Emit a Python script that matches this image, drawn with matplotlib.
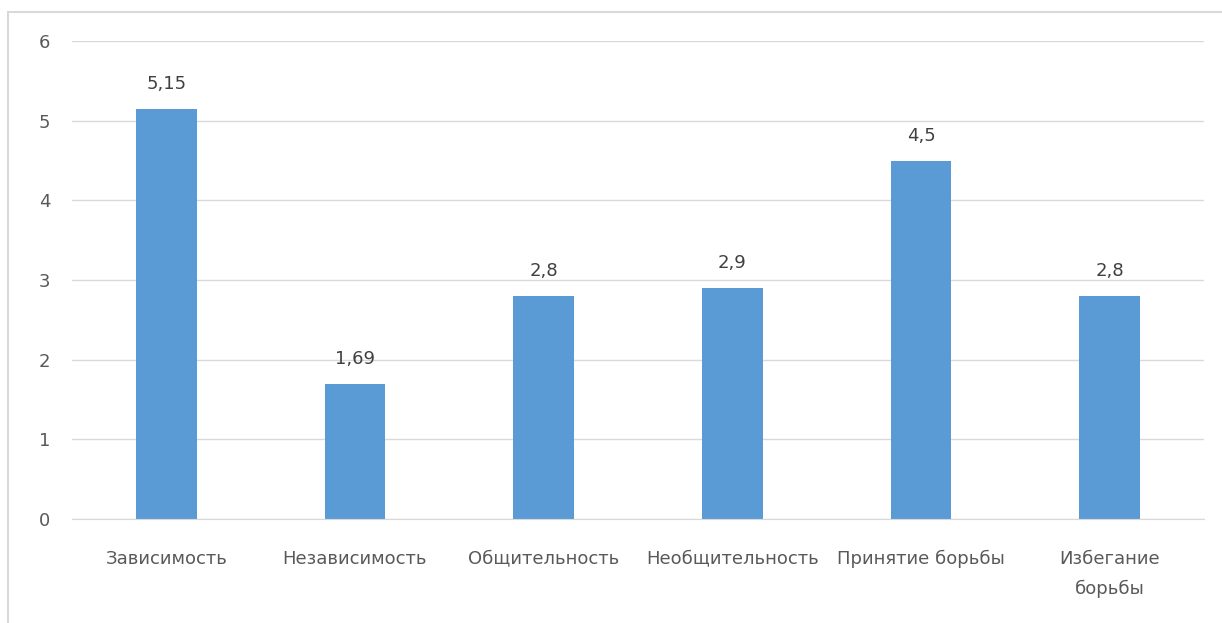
import matplotlib
matplotlib.use('Agg')
import matplotlib.pyplot as plt
from matplotlib.patches import Rectangle

categories = ['Зависимость', 'Независимость', 'Общительность',
              'Необщительность', 'Принятие борьбы', 'Избегание\nборьбы']
values = [5.15, 1.69, 2.8, 2.9, 4.5, 2.8]
value_labels = ['5,15', '1,69', '2,8', '2,9', '4,5', '2,8']
y_ticks = [0, 1, 2, 3, 4, 5, 6]

plt.rcParams['font.family'] = ['DejaVu Sans']

fig = plt.figure(figsize=(12.22, 6.23), dpi=100)
ax = fig.add_axes([72 / 1222, 1 - 519 / 623, 1132 / 1222, 478 / 623])

# chart frame (open on the right and bottom)
fig.patches.append(Rectangle((8 / 1222, -0.1), 1.2, 1 - 12 / 623 + 0.1,
                             transform=fig.transFigure, fill=False,
                             edgecolor='#d9d9d9', linewidth=1.5))

x = range(len(categories))
bars = ax.bar(x, values, width=0.32, color='#5b9bd5', zorder=3)

for bar, lab in zip(bars, value_labels):
    ax.annotate(lab, (bar.get_x() + bar.get_width() / 2, bar.get_height()),
                xytext=(0, 18), textcoords='offset points',
                ha='center', va='center', fontsize=13, color='#404040')

ax.set_xlim(-0.5, len(categories) - 0.5)
ax.set_ylim(0, 6)
ax.set_yticks(y_ticks)
ax.set_yticklabels([str(t) for t in y_ticks])
ax.set_xticks(list(x))
ax.set_xticklabels(categories, linespacing=1.85)
ax.tick_params(axis='both', length=0, labelsize=13, colors='#595959')
ax.tick_params(axis='y', pad=15.5)
ax.tick_params(axis='x', pad=22)
ax.grid(axis='y', color='#d9d9d9', linewidth=1, zorder=0)
for s in ['top', 'right', 'left']:
    ax.spines[s].set_visible(False)
ax.spines['bottom'].set_color('#d9d9d9')
ax.spines['bottom'].set_zorder(4)

fig.savefig('out.png', dpi=100)
